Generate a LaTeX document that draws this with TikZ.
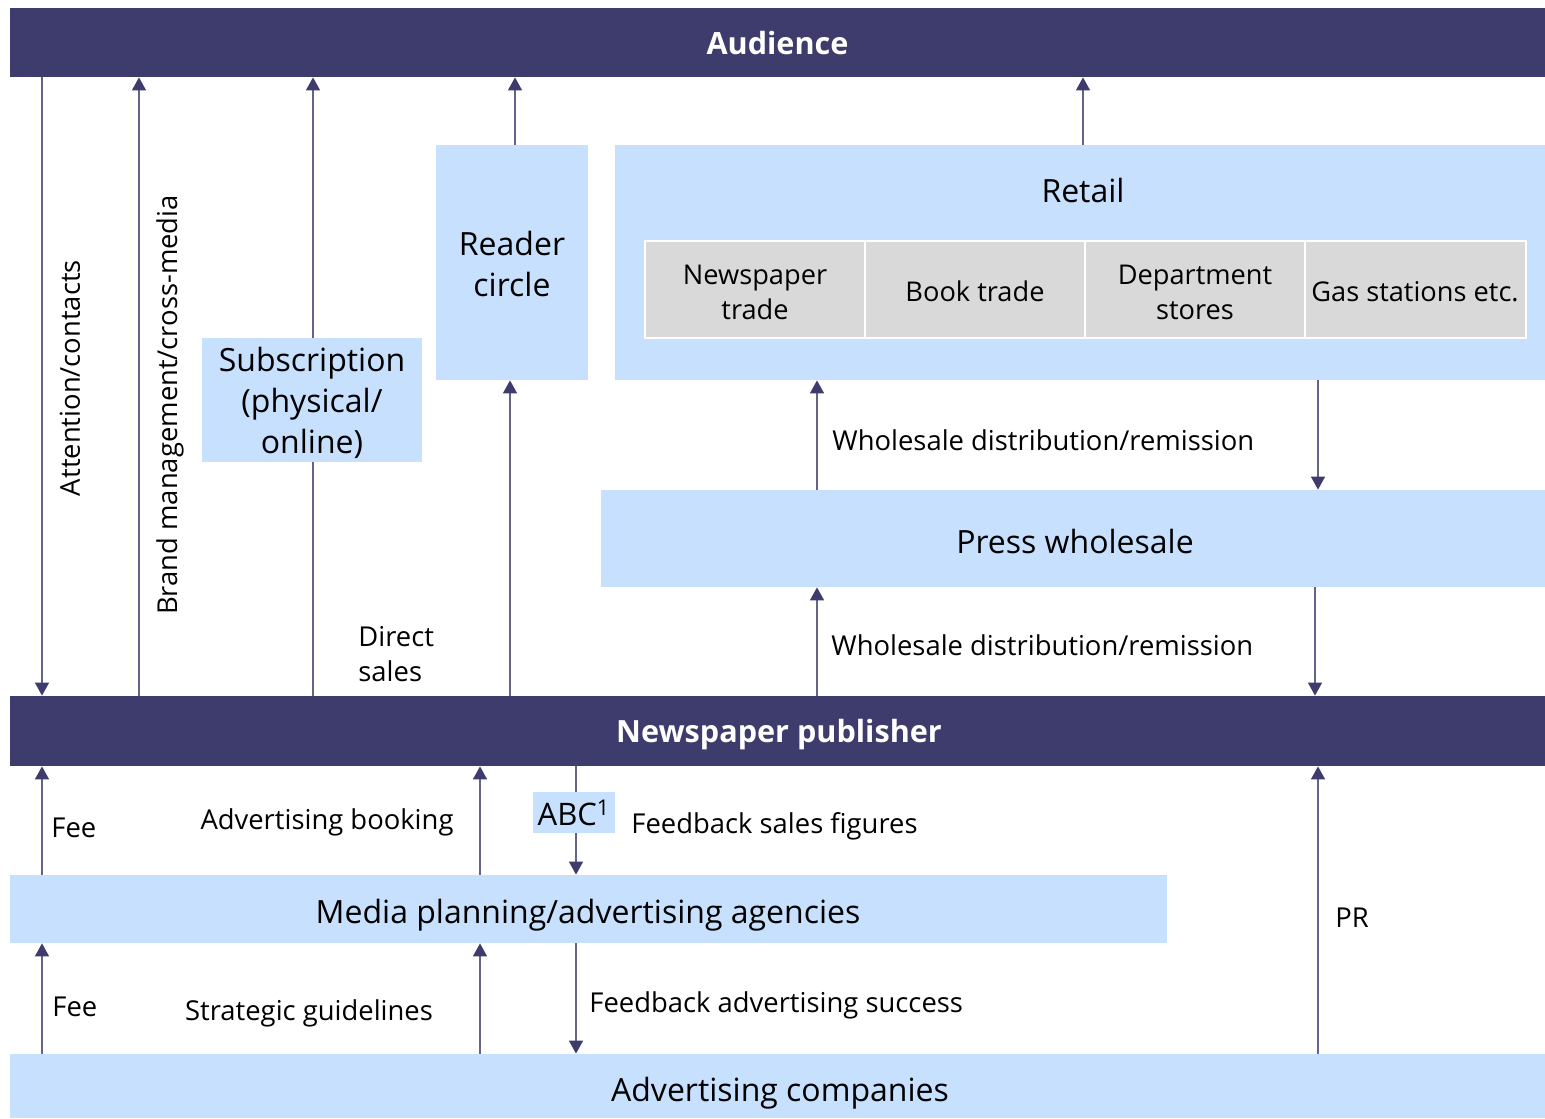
\documentclass[tikz,border=0pt]{standalone}
\usepackage{fontspec}
\setmainfont{Open Sans}
\usetikzlibrary{arrows.meta,fit}
\definecolor{navy}{HTML}{3D3C6C}
\definecolor{lblue}{HTML}{C7E0FD}
\definecolor{cgray}{HTML}{D9D9D9}
\tikzset{
 bar/.style={fill=navy, inner sep=0},
 bartext/.style={inner sep=0, text=white, font=\bfseries\fontsize{15.3}{18}\selectfont},
 lbox/.style={fill=lblue, inner sep=0},
 btext/.style={inner sep=0, align=center, font=\fontsize{16}{20.5}\selectfont},
 cell/.style={fill=cgray, draw=white, line width=1pt, inner sep=0},
 ctext/.style={inner sep=0, align=center, font=\fontsize{13.6}{17.5}\selectfont},
 lbl/.style={inner sep=0, align=left, font=\fontsize{13.7}{17.5}\selectfont},
 ln/.style={draw=navy!80, line width=0.7pt},
 arr/.style={ln, -{Triangle[width=7pt,length=6.5pt,color=navy]}}
}
\begin{document}
\begin{tikzpicture}[x=0.5pt,y=-0.5pt]
\fill[white] (0,0) rectangle (1545,1118);
\useasboundingbox (0,0) rectangle (1545,1118);
% boxes
\node[bar, fit={(10,8)(1545,77)}] (aud) {};
\node[bartext] at (777.5,43) {Audience};
\node[bar, fit={(10,696)(1545,766)}] (pub) {};
\node[bartext] at (779,735) {Newspaper publisher};
\node[lbox, fit={(202,338)(422,462)}] (sub) {};
\node[btext] at (312,403) {Subscription\\(physical/\\online)};
\node[lbox, fit={(436,145)(588,380)}] (reader) {};
\node[btext] at (512,264) {Reader\\circle};
\node[lbox, fit={(615,145)(1545,380)}] (retail) {};
\node[btext] (retailt) at (1083,191) {Retail};
\node[cell, fit={(645,241)(865,338)}] (c1) {};
\node[ctext] at (755,292.5) {Newspaper\\trade};
\node[cell, fit={(865,241)(1085,338)}] (c2) {};
\node[ctext] at (975,291.5) {Book trade};
\node[cell, fit={(1085,241)(1305,338)}] (c3) {};
\node[ctext] at (1195,292.5) {Department\\stores};
\node[cell, fit={(1305,241)(1526,338)}] (c4) {};
\node[ctext] at (1415,291.5) {Gas stations etc.};
\node[lbox, fit={(601,490)(1545,587)}] (press) {};
\node[btext] at (1075,541) {Press wholesale};
\node[lbox, fit={(10,875)(1167,943)}] (media) {};
\node[btext] at (588,915) {Media planning/advertising agencies};
\node[lbox, fit={(10,1054)(1545,1118)}] (adv) {};
\node[btext] at (780,1093) {Advertising companies};
\node[lbox, fit={(533,792)(615,833)}] (abc) {};
\node[btext, font=\fontsize{15.5}{18}\selectfont] at (574,813) {ABC\textsuperscript{1}};
% arrows upper part
\draw[arr] (aud.south -| 42,0) -- (pub.north -| 42,0);
\draw[arr] (pub.north -| 139,0) -- (aud.south -| 139,0);
\draw[ln] (pub.north -| 313,0) -- (sub.south -| 313,0);
\draw[arr] (sub.north -| 313,0) -- (aud.south -| 313,0);
\draw[arr] (reader.north -| 515,0) -- (aud.south -| 515,0);
\draw[arr] (pub.north -| 510,0) -- (reader.south -| 510,0);
\draw[arr] (retail.north -| 1083,0) -- (aud.south -| 1083,0);
\draw[arr] (press.north -| 817,0) -- (retail.south -| 817,0);
\draw[arr] (retail.south -| 1318,0) -- (press.north -| 1318,0);
\draw[arr] (pub.north -| 817,0) -- (press.south -| 817,0);
\draw[arr] (press.south -| 1315,0) -- (pub.north -| 1315,0);
% arrows lower part
\draw[arr] (media.north -| 42,0) -- (pub.south -| 42,0);
\draw[arr] (media.north -| 480,0) -- (pub.south -| 480,0);
\draw[ln] (pub.south -| 576,0) -- (abc.north -| 576,0);
\draw[arr] (abc.south -| 576,0) -- (media.north -| 576,0);
\draw[arr] (adv.north -| 42,0) -- (media.south -| 42,0);
\draw[arr] (adv.north -| 480,0) -- (media.south -| 480,0);
\draw[arr] (media.south -| 576,0) -- (adv.north -| 576,0);
\draw[arr] (adv.north -| 1318,0) -- (pub.south -| 1318,0);
% labels
\node[lbl, rotate=90] (l1) at (70,378) {Attention/contacts};
\node[lbl, rotate=90] (l2) at (170,405) {Brand management/cross-media};
\node[lbl, anchor=west] (l3) at (358,654) {Direct\\sales};
\node[lbl, anchor=west] (l4) at (832,440) {Wholesale distribution/remission};
\node[lbl, anchor=west] (l5) at (831,645) {Wholesale distribution/remission};
\node[lbl, anchor=west] (l6) at (51,828) {Fee};
\node[lbl] (l7) at (327,822) {Advertising booking};
\node[lbl, anchor=west] (l8) at (631,826) {Feedback sales figures};
\node[lbl, anchor=west] (l9) at (52,1007) {Fee};
\node[lbl] (l10) at (309,1013) {Strategic guidelines};
\node[lbl, anchor=west] (l11) at (589,1005) {Feedback advertising success};
\node[lbl, anchor=west] (l12) at (1335,918) {PR};
\end{tikzpicture}
\end{document}
